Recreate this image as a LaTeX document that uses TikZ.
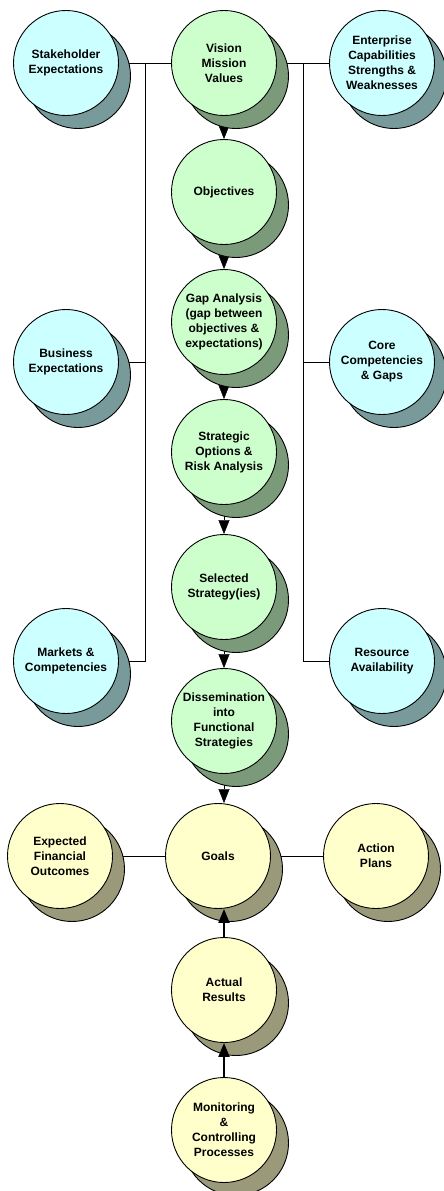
\documentclass[tikz,border=0pt]{standalone}
\usepackage{fontspec}
\setmainfont{Liberation Sans}
\usetikzlibrary{arrows.meta}
\usetikzlibrary{shadows}
\usetikzlibrary{backgrounds}
\definecolor{bluefill}{HTML}{CCFFFF}
\definecolor{blueshade}{HTML}{789A9A}
\definecolor{greenfill}{HTML}{CCFFCC}
\definecolor{greenshade}{HTML}{7A9A7A}
\definecolor{yellowfill}{HTML}{FFFFCC}
\definecolor{yellowshade}{HTML}{9A9A7A}

\begin{document}
\begin{tikzpicture}[x=1pt,y=-1pt,>={Triangle[length=14pt,width=11pt]},line width=2pt,
  bubble/.style={circle,draw,line width=0.9pt,minimum size=105pt,inner sep=0pt,
    align=center,font=\bfseries\fontsize{12}{15}\selectfont},
  blue node/.style={bubble,fill=bluefill,
    copy shadow={fill=blueshade,shadow xshift=12pt,shadow yshift=-13pt}},
  green node/.style={bubble,fill=greenfill,
    copy shadow={fill=greenshade,shadow xshift=12pt,shadow yshift=-13pt}},
  yellow node/.style={bubble,fill=yellowfill,
    copy shadow={fill=yellowshade,shadow xshift=12pt,shadow yshift=-13pt}}]

\useasboundingbox (0,0) rectangle (444,1191);

\node[blue node] (stake) at (66,63) {Stakeholder\\Expectations};
\node[green node] (vision) at (224,63) {Vision\\Mission\\Values};
\node[blue node] (enterprise) at (382,63) {Enterprise\\Capabilities\\Strengths \&\\Weaknesses};
\node[green node] (objectives) at (224,192) {Objectives};
\node[blue node] (business) at (66,362) {Business\\Expectations};
\node[green node] (gap) at (224,322) {Gap Analysis\\(gap between\\objectives \&\\expectations)};
\node[blue node] (core) at (382,362) {Core\\Competencies\\\& Gaps};
\node[green node] (strategic) at (224,452) {Strategic\\Options \&\\Risk Analysis};
\node[green node] (selected) at (224,587) {Selected\\Strategy(ies)};
\node[blue node] (markets) at (66,661) {Markets \&\\Competencies};
\node[blue node] (resource) at (382,661) {Resource\\Availability};
\node[green node] (dissem) at (224,721) {Dissemination\\into\\Functional\\Strategies};
\node[yellow node] (expected) at (60,856) {Expected\\Financial\\Outcomes};
\node[yellow node] (goals) at (218,856) {Goals};
\node[yellow node] (action) at (376,856) {Action\\Plans};
\node[yellow node] (actual) at (224,990) {Actual\\Results};
\node[yellow node] (monitor) at (224,1130) {Monitoring\\\&\\Controlling\\Processes};

\begin{scope}[on background layer]
\coordinate (lbar) at (145,63);
\coordinate (rbar) at (303,63);
\draw (lbar) |- (markets);
\draw (rbar) |- (resource);
\draw (business) -- (business -| lbar);
\draw (core) -- (core -| rbar);
\draw[->] (dissem) -- (dissem |- goals.north);

\path
(stake)      edge (vision)
(vision)     edge (enterprise)
             edge[->] (objectives)
(objectives) edge[->] (gap)
(gap)        edge[->] (strategic)
(strategic)  edge[->] (selected)
(selected)   edge[->] (dissem)
(expected)   edge (goals)
(goals)      edge (action);
\end{scope}

\draw[->] (actual.north) -- (actual.north |- goals.south);
\draw[->] (monitor.north) -- (actual.south);
\end{tikzpicture}
\end{document}
